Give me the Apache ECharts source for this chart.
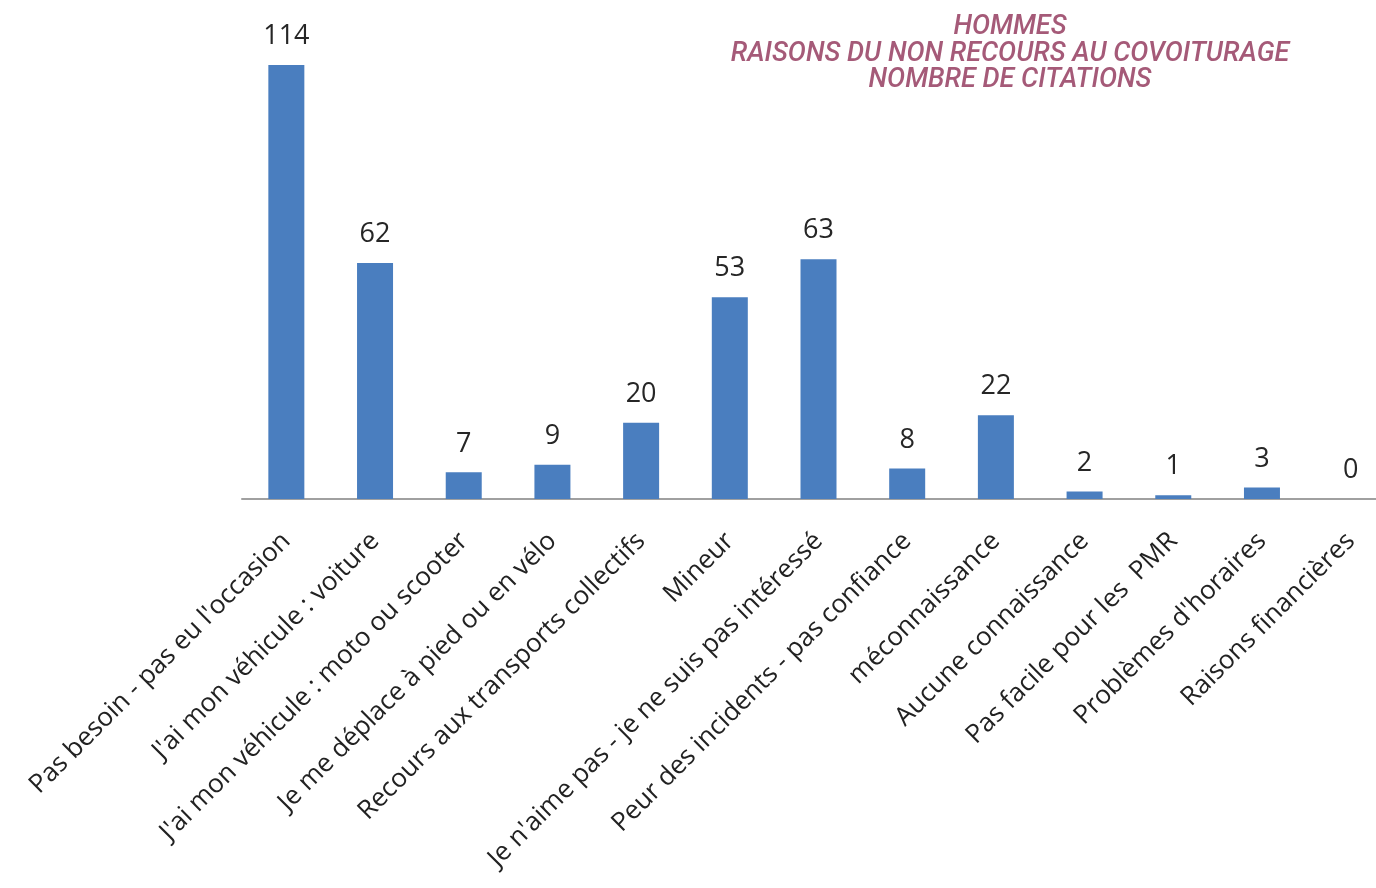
<!DOCTYPE html>
<html>
<head>
<meta charset="utf-8">
<script src="https://cdn.jsdelivr.net/npm/echarts@6/dist/echarts.min.js"></script>
<style>
  html, body { margin: 0; padding: 0; background: #fff; }
  #c1 { width: 1376px; height: 888px; }
</style>
</head>
<body>
<div id="c1"></div>
<script>
var raisons = [
  "Pas besoin - pas eu l'occasion",
  "J'ai mon véhicule : voiture",
  "J'ai mon véhicule : moto ou scooter",
  "Je me déplace à pied ou en vélo",
  "Recours aux transports collectifs",
  "Mineur",
  "Je n'aime pas - je ne suis pas intéressé",
  "Peur des incidents - pas confiance",
  "méconnaissance",
  "Aucune connaissance",
  "Pas facile pour les  PMR",
  "Problèmes d'horaires",
  "Raisons financières"
];
var citations = [114, 62, 7, 9, 20, 53, 63, 8, 22, 2, 1, 3, 0];
var titre = ["HOMMES", "RAISONS DU NON RECOURS AU COVOITURAGE", "NOMBRE DE CITATIONS"];

var myChart = echarts.init(document.getElementById("c1"));
var option = {
  animation: false,
  title: {
    text: titre.join("\n"),
    left: 1010,
    top: 14,
    padding: 0,
    textAlign: "center",
    textStyle: {
      color: "#a55a78",
      fontFamily: "Roboto",
      fontStyle: "italic",
      fontWeight: 500,
      fontSize: 27,
      lineHeight: 26.5
    }
  },
  grid: {
    left: 242,
    top: 42.2,
    width: 1153,
    height: 456.8,
    outerBoundsMode: "none",
    containLabel: false
  },
  xAxis: {
    type: "category",
    data: raisons,
    axisLine: { lineStyle: { color: "#a0a0a0", width: 2 } },
    axisTick: { show: false },
    axisLabel: {
      interval: 0,
      rotate: 45,
      margin: 38,
      color: "#222",
      fontFamily: "Open Sans",
      fontSize: 26
    }
  },
  yAxis: {
    type: "value",
    min: 0,
    max: 120,
    show: false,
    splitLine: { show: false }
  },
  series: [
    {
      type: "bar",
      data: citations,
      barWidth: 36,
      itemStyle: { color: "#4a7ebf" },
      label: {
        show: true,
        position: "top",
        distance: 15,
        color: "#262626",
        fontFamily: "Open Sans",
        fontSize: 27
      }
    }
  ]
};
myChart.setOption(option);
</script>
</body>
</html>
